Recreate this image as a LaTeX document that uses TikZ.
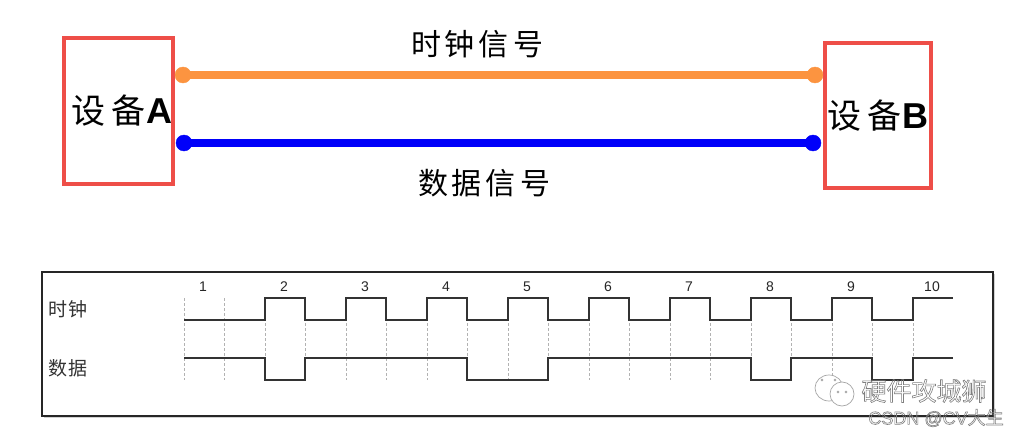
\documentclass[tikz,border=0pt]{standalone}
\usepackage{fontspec}
\setmainfont{Liberation Sans}
\newfontfamily\cjk{Noto Sans CJK SC}
\usetikzlibrary{shadows}
\definecolor{boxred}{RGB}{238,78,72}
\definecolor{clkorange}{RGB}{252,148,64}
\definecolor{datablue}{RGB}{0,0,250}
\definecolor{markgray}{RGB}{128,128,128}
\newcommand{\outlined}[1]{\special{pdf:code q 1 Tr 0.6 w}#1\special{pdf:code 0 Tr Q}}
\tikzset{
  devbox/.style={draw=boxred, line width=4pt, inner sep=0pt, font=\fontsize{34}{34}\cjk},
  siglabel/.style={font=\fontsize{30}{30}\cjk},
  rowlabel/.style={font=\fontsize{19}{19}\cjk, text=black!80},
  numlabel/.style={font=\fontsize{14}{14}\selectfont, text=black!85},
  wave/.style={black!80, line width=1.4pt, line join=miter},
  tickline/.style={gray!60, densely dashed, line width=0.8pt},
  wmtext/.style={markgray, font=\fontsize{25}{25}\cjk}
}
\begin{document}
\begin{tikzpicture}[x=1pt, y=-1pt]
    \useasboundingbox (0,0) rectangle (1018,436);
    \fill[white] (0,0) rectangle (1018,436);

    \node[devbox, minimum width=109pt, minimum height=146pt] (devA) at (118.5,111) {\hspace{7pt}设\hspace{6pt}备\hspace{1pt}{\fontsize{36}{36}\bfseries\fontspec{Liberation Sans}A}};
    \node[devbox, minimum width=106pt, minimum height=145pt] (devB) at (878,115.5) {设\hspace{6pt}备\hspace{1pt}{\fontsize{36}{36}\bfseries\fontspec{Liberation Sans}B}};

    \coordinate (clkA) at (183,75);
    \coordinate (clkB) at (815,75);
    \coordinate (datA) at (184,143);
    \coordinate (datB) at (813,143);

    \draw[clkorange, line width=8pt] (clkA) -- (clkB);
    \draw[datablue, line width=8pt] (datA) -- (datB);
    \filldraw[clkorange] (clkA) circle (8pt);
    \filldraw[clkorange] (clkB) circle (8pt);
    \filldraw[datablue] (datA) circle (8pt);
    \filldraw[datablue] (datB) circle (8pt);

    \node[siglabel] (clkname) at (477,44) {时\hspace{4pt}钟\hspace{4pt}信\hspace{4pt}号};
    \node[siglabel] (datname) at (484,183) {数\hspace{4pt}据\hspace{4pt}信\hspace{4pt}号};

    \node[draw=black!85, line width=2pt, fill=white, inner sep=0pt, minimum width=951pt, minimum height=144pt,
          drop shadow={shadow xshift=2pt, shadow yshift=-2pt, opacity=0.35, fill=gray}] (frame) at (517.5,344) {};

    \node[rowlabel] (clkrow) at (68,309) {时\hspace{2pt}钟};
    \node[rowlabel] (datrow) at (68,368) {数\hspace{2pt}据};

    % dashed ticks
    \foreach \i in {0,...,18}
        \draw[tickline] (184+\i*40.5,298) -- (184+\i*40.5,380);

    % numbers
    \foreach \i in {1,...,10}
        \node[numlabel] (num\i) at (203+\i*81-81,287) {\i};

    % clock
    \draw[wave] (184,320) -- (265,320) -- (265,298) -- (305,298) -- (305,320) -- (346,320) -- (346,298)
        -- (386,298) -- (386,320) -- (427,320) -- (427,298) -- (467,298) -- (467,320) -- (508,320) -- (508,298)
        -- (548,298) -- (548,320) -- (589,320) -- (589,298) -- (629,298) -- (629,320) -- (670,320) -- (670,298)
        -- (710,298) -- (710,320) -- (751,320) -- (751,298) -- (791,298) -- (791,320) -- (832,320) -- (832,298)
        -- (872,298) -- (872,320) -- (913,320) -- (913,298) -- (953,298);

    % data
    \draw[wave] (184,358) -- (265,358) -- (265,380) -- (305,380) -- (305,358) -- (467,358) -- (467,380)
        -- (548,380) -- (548,358) -- (751,358) -- (751,380) -- (791,380) -- (791,358) -- (872,358)
        -- (872,380) -- (913,380) -- (913,358) -- (953,358);

    % watermark
    \draw[gray!70, fill=white, line width=0.7pt] (829,388) ellipse (14pt and 13pt);
    \draw[gray!70, fill=white, line width=0.7pt] (842,394) ellipse (12pt and 12pt);
    \filldraw[gray!70] (838,392) circle (1.2pt);
    \filldraw[gray!70] (846,392) circle (1.2pt);
    \filldraw[gray!70] (822,380) circle (1.2pt);
    \filldraw[gray!70] (835,380) circle (1.2pt);
    \node[wmtext] (wmark) at (924,391) {\outlined{硬件攻城狮}};
    \node[wmtext, font=\fontsize{18}{18}\selectfont, inner sep=0pt] (csdn) at (936,418) {\outlined{CSDN @CV{\cjk 大生}}};
\end{tikzpicture}
\end{document}
